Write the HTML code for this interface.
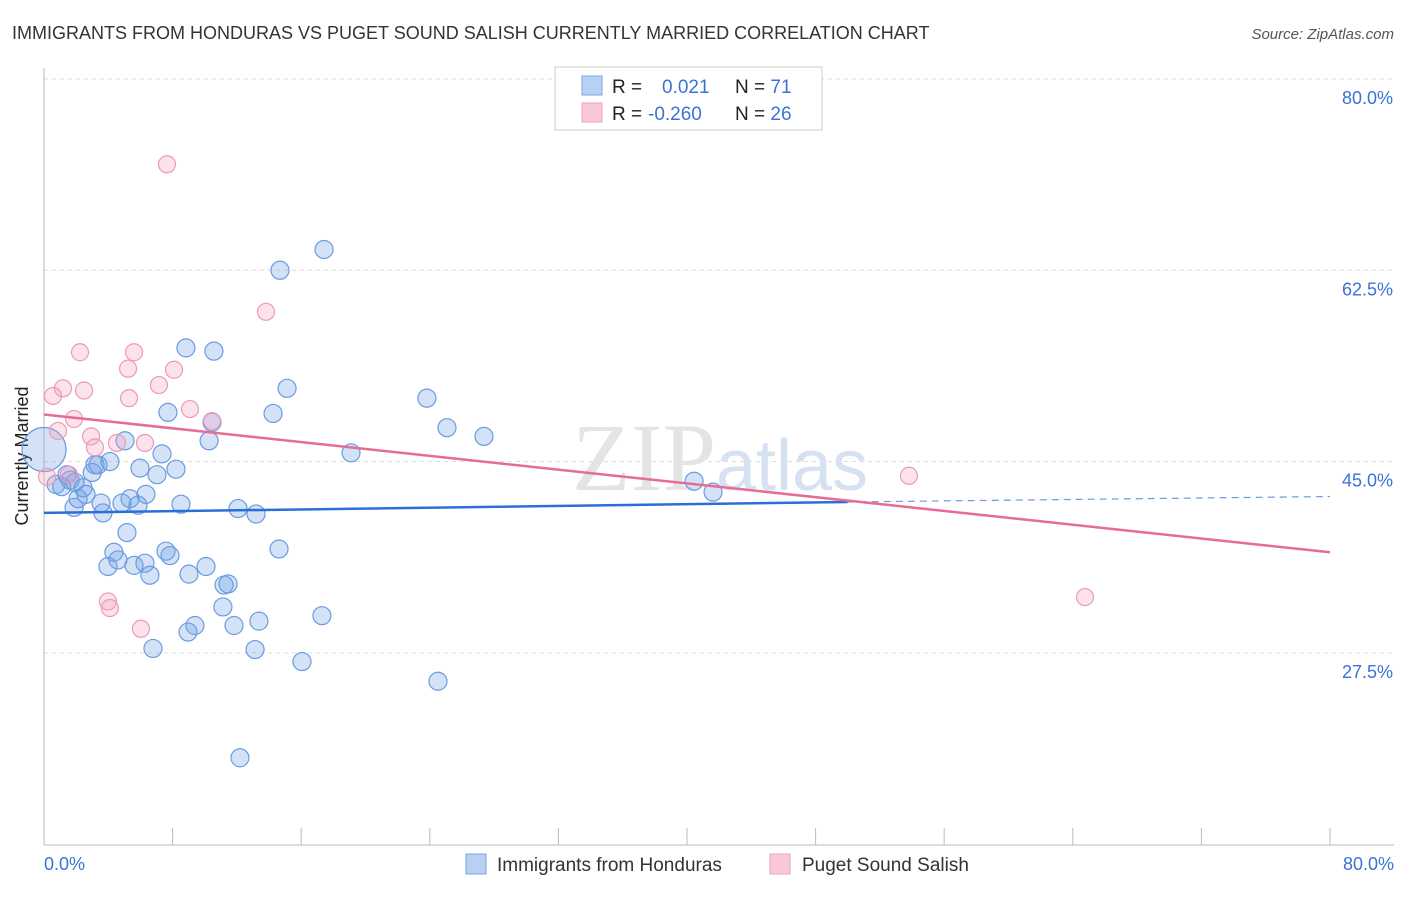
<!DOCTYPE html>
<html><head><meta charset="utf-8"><style>
body{margin:0;background:#fff;font-family:"Liberation Sans",sans-serif}
</style></head><body>
<svg width="1406" height="892" xmlns="http://www.w3.org/2000/svg">
<text x="12" y="39" font-size="18" fill="#333">IMMIGRANTS FROM HONDURAS VS PUGET SOUND SALISH CURRENTLY MARRIED CORRELATION CHART</text>
<text x="1394" y="39" font-size="15" fill="#555" font-style="italic" text-anchor="end">Source: ZipAtlas.com</text>
<g id="grid"></g>
<text x="720" y="490" font-size="96" fill="#e4e4e4" text-anchor="middle" font-family="Liberation Serif">ZIP<tspan fill="#d6e2f2" font-family="Liberation Sans" font-size="72">atlas</tspan></text>
<line x1="44" y1="68" x2="44" y2="845" stroke="#bbb"/>
<line x1="44" y1="845" x2="1394" y2="845" stroke="#bbb"/>
<g id="ticks"></g>
<text x="28" y="456" font-size="18" fill="#222" text-anchor="middle" transform="rotate(-90 28 456)">Currently Married</text>
<text x="44" y="870" font-size="18" fill="#3a72d8">0.0%</text>
<text x="1394" y="870" font-size="18" fill="#3a72d8" text-anchor="end">80.0%</text>
<g id="pts"></g>
<g id="trends"></g>
<g>
<rect x="555" y="67" width="267" height="63" fill="#fff" stroke="#ccc"/>
<rect x="582" y="76" width="20" height="19" fill="#b8d0f4" stroke="#7fa6e0"/>
<rect x="582" y="103" width="20" height="19" fill="#f9c8d6" stroke="#eaa0b8"/>
<text x="612" y="93" font-size="19" fill="#222">R = <tspan fill="#3a72d8" x="662">0.021</tspan><tspan x="735">N = </tspan><tspan fill="#3a72d8">71</tspan></text>
<text x="612" y="120" font-size="19" fill="#222">R = <tspan fill="#3a72d8" x="648">-0.260</tspan><tspan x="735">N = </tspan><tspan fill="#3a72d8">26</tspan></text>
</g>
<g>
<rect x="466" y="854" width="20" height="20" fill="#b8d0f4" stroke="#7fa6e0"/>
<text x="497" y="871" font-size="19" fill="#333">Immigrants from Honduras</text>
<rect x="770" y="854" width="20" height="20" fill="#f9c8d6" stroke="#eaa0b8"/>
<text x="802" y="871" font-size="19" fill="#333">Puget Sound Salish</text>
</g>
</svg>
<script>
const yTicks=[80,62.5,45,27.5];
const yTickLabels=["80.0%","62.5%","45.0%","27.5%"];
const xTicks=[0,8,16,24,32,40,48,56,64,72,80];
const blueX=[0,0.75,1.1,1.43,1.62,1.93,2.43,2.61,3.0,3.17,3.36,4.1,1.87,2.12,3.55,3.67,4.85,5.16,5.04,5.35,5.85,5.97,6.34,7.03,7.34,7.71,8.21,8.52,8.83,10.27,10.45,10.57,12.07,13.19,14.25,15.12,19.1,23.82,25.07,27.37,40.44,41.62,14.68,17.42,4.35,4.6,3.98,5.6,6.28,6.59,7.59,7.84,9.02,10.08,11.13,11.2,11.45,14.62,9.39,8.96,11.82,13.37,17.29,6.78,13.13,16.05,24.51,12.19];
const blueY=[46.1,42.9,42.7,43.8,43.3,43.1,42.6,42.0,44.0,44.7,44.7,45.0,40.8,41.6,41.2,40.3,41.2,38.5,46.9,41.6,41.0,44.4,42.0,43.8,45.7,49.5,44.3,41.1,55.4,46.9,48.6,55.1,40.7,40.2,49.4,51.7,45.8,50.8,48.1,47.3,43.2,42.2,62.5,64.4,36.7,36.0,35.4,35.5,35.7,34.6,36.8,36.4,34.7,35.4,31.7,33.7,33.8,37.0,30.0,29.4,30.0,30.4,30.9,27.9,27.8,26.7,24.9,17.9];
const pinkX=[7.65,13.81,2.24,5.6,5.23,8.09,1.18,2.49,0.56,7.15,5.29,9.08,10.45,1.87,0.87,2.93,3.17,4.54,6.28,1.55,0.19,3.98,4.1,6.03,53.81,64.76];
const pinkY=[72.2,58.7,55.0,55.0,53.5,53.4,51.7,51.5,51.0,52.0,50.8,49.8,48.7,48.9,47.8,47.3,46.3,46.7,46.7,43.8,43.6,32.2,31.6,29.7,43.7,32.6];
const blueTrend=[0,40.3,50,41.3,80,41.8];
const pinkTrend=[0,49.3,80,36.7];
const sx=v=>44+v/80*1286, sy=v=>79+(80-v)*10.93;
const NS="http://www.w3.org/2000/svg";
function mk(t,a,p){const e=document.createElementNS(NS,t);for(const k in a)e.setAttribute(k,a[k]);p.appendChild(e);return e;}
const grid=document.getElementById('grid'),ticks=document.getElementById('ticks');
yTicks.forEach((v,i)=>{
const l=mk('line',{x1:44,x2:1394,y1:sy(v),y2:sy(v),stroke:'#ddd','stroke-dasharray':'4 4'},grid);


const t=mk('text',{x:1393,y:sy(v)+25,'font-size':18,fill:'#3a72d8','text-anchor':'end'},ticks);
t.textContent=yTickLabels[i];


});
xTicks.forEach(v=>{
const l=mk('line',{x1:sx(v),x2:sx(v),y1:828,y2:845,stroke:'#bbb'},ticks);


});
const pts=document.getElementById('pts');
blueX.forEach((x,i)=>{
const c=mk('circle',{cx:sx(x),cy:sy(blueY[i]),r:i==0?22:9,fill:'rgba(110,160,230,0.3)',stroke:'#6b9be0','stroke-width':1.2},pts);


});
pinkX.forEach((x,i)=>{
const c=mk('circle',{cx:sx(x),cy:sy(pinkY[i]),r:8.5,fill:'rgba(245,160,190,0.3)',stroke:'#ec9ab5','stroke-width':1.2},pts);


});
const tr=document.getElementById('trends');
let b=mk('line',{x1:sx(blueTrend[0]),y1:sy(blueTrend[1]),x2:sx(blueTrend[2]),y2:sy(blueTrend[3]),stroke:'#2a6fd6','stroke-width':2.5},tr);


b=mk('line',{x1:sx(blueTrend[2]),y1:sy(blueTrend[3]),x2:sx(blueTrend[4]),y2:sy(blueTrend[5]),stroke:'#6b9be0','stroke-width':1.2,'stroke-dasharray':'7 5'},tr);


const p=mk('line',{x1:sx(pinkTrend[0]),y1:sy(pinkTrend[1]),x2:sx(pinkTrend[2]),y2:sy(pinkTrend[3]),stroke:'#e66c96','stroke-width':2.5},tr);


</script>
</body></html>
